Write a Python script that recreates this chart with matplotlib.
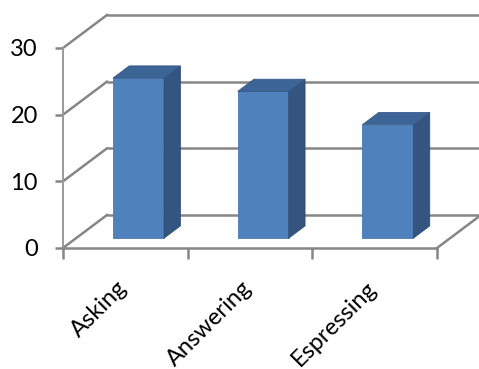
import matplotlib
matplotlib.use("Agg")
import matplotlib.pyplot as plt
from matplotlib.patches import Polygon
import matplotlib.transforms as mtransforms
import numpy as np

categories = ["Asking", "Answering", "Espressing"]
values = [24, 22, 17]
y_ticks = [0, 10, 20, 30]

# oblique depth offset (data units per unit of depth)
DX, DY = 0.353, 4.95
BAR_W = 0.41
F0, F1 = 0.30, 0.67   # bar front / back depth

GRID = "#868686"
FRONT, SIDE, TOP = "#4F81BD", "#34557F", "#3C6494"

plt.rcParams["font.family"] = ["Lato", "DejaVu Sans"]

fig = plt.figure(figsize=(4.79, 3.69), dpi=100)
ax = fig.add_axes([63 / 479, 121 / 369, 374 / 479, 200 / 369])
ax.set_xlim(-0.5, len(categories) - 0.5)
ax.set_ylim(0, 30)

x0, x1 = -0.5, len(categories) - 0.5

# back wall grid lines and left wall diagonals
for v in y_ticks:
    ax.plot([x0 + DX, x1 + DX], [v + DY, v + DY], color=GRID, lw=1.8,
            clip_on=False, zorder=1, solid_capstyle="butt")
    ax.plot([x0, x0 + DX], [v, v + DY], color=GRID, lw=1.8,
            clip_on=False, zorder=1)
# floor right edge
ax.plot([x1, x1 + DX], [0, DY], color=GRID, lw=1.8, clip_on=False, zorder=1)

# bars
xs = np.arange(len(categories))
ax.bar(xs + F0 * DX, values, width=BAR_W, bottom=F0 * DY, color=FRONT,
       edgecolor="#4A7AB3", lw=0.6, zorder=3, clip_on=False)
for x, v in zip(xs, values):
    r = x + BAR_W / 2
    l = x - BAR_W / 2
    side = [(r + F0 * DX, F0 * DY), (r + F1 * DX, F1 * DY),
            (r + F1 * DX, v + F1 * DY), (r + F0 * DX, v + F0 * DY)]
    top = [(l + F0 * DX, v + F0 * DY), (r + F0 * DX, v + F0 * DY),
           (r + F1 * DX, v + F1 * DY), (l + F1 * DX, v + F1 * DY)]
    ax.add_patch(Polygon(side, closed=True, facecolor=SIDE, edgecolor="#2F4E75",
                         lw=0.6, zorder=3, clip_on=False))
    ax.add_patch(Polygon(top, closed=True, facecolor=TOP, edgecolor="#35598A",
                         lw=0.6, zorder=3, clip_on=False))

# front axes
for s in ["top", "right"]:
    ax.spines[s].set_visible(False)
ax.spines["left"].set_color("#9A9A9A")
ax.spines["left"].set_linewidth(1.4)
ax.spines["bottom"].set_color(GRID)
ax.spines["bottom"].set_linewidth(1.8)

ax.set_yticks(y_ticks)
ax.set_yticklabels([str(t) for t in y_ticks], fontsize=17)
ax.tick_params(axis="y", length=6, width=1.8, color=GRID, pad=12)

ax.set_xticks(np.arange(len(categories) + 1) - 0.5)
ax.set_xticklabels([])
ax.tick_params(axis="x", which="major", length=8, width=1.8, color=GRID)
ax.set_xticks(xs, minor=True)
ax.set_xticklabels(categories, minor=True, rotation=45, ha="right",
                   rotation_mode="anchor", fontsize=17)
ax.tick_params(axis="x", which="minor", length=0, pad=21)
shift = mtransforms.ScaledTranslation(-0.09, 0, fig.dpi_scale_trans)
for lab in ax.get_xticklabels(minor=True):
    lab.set_transform(lab.get_transform() + shift)

fig.savefig("out.png", dpi=100)
